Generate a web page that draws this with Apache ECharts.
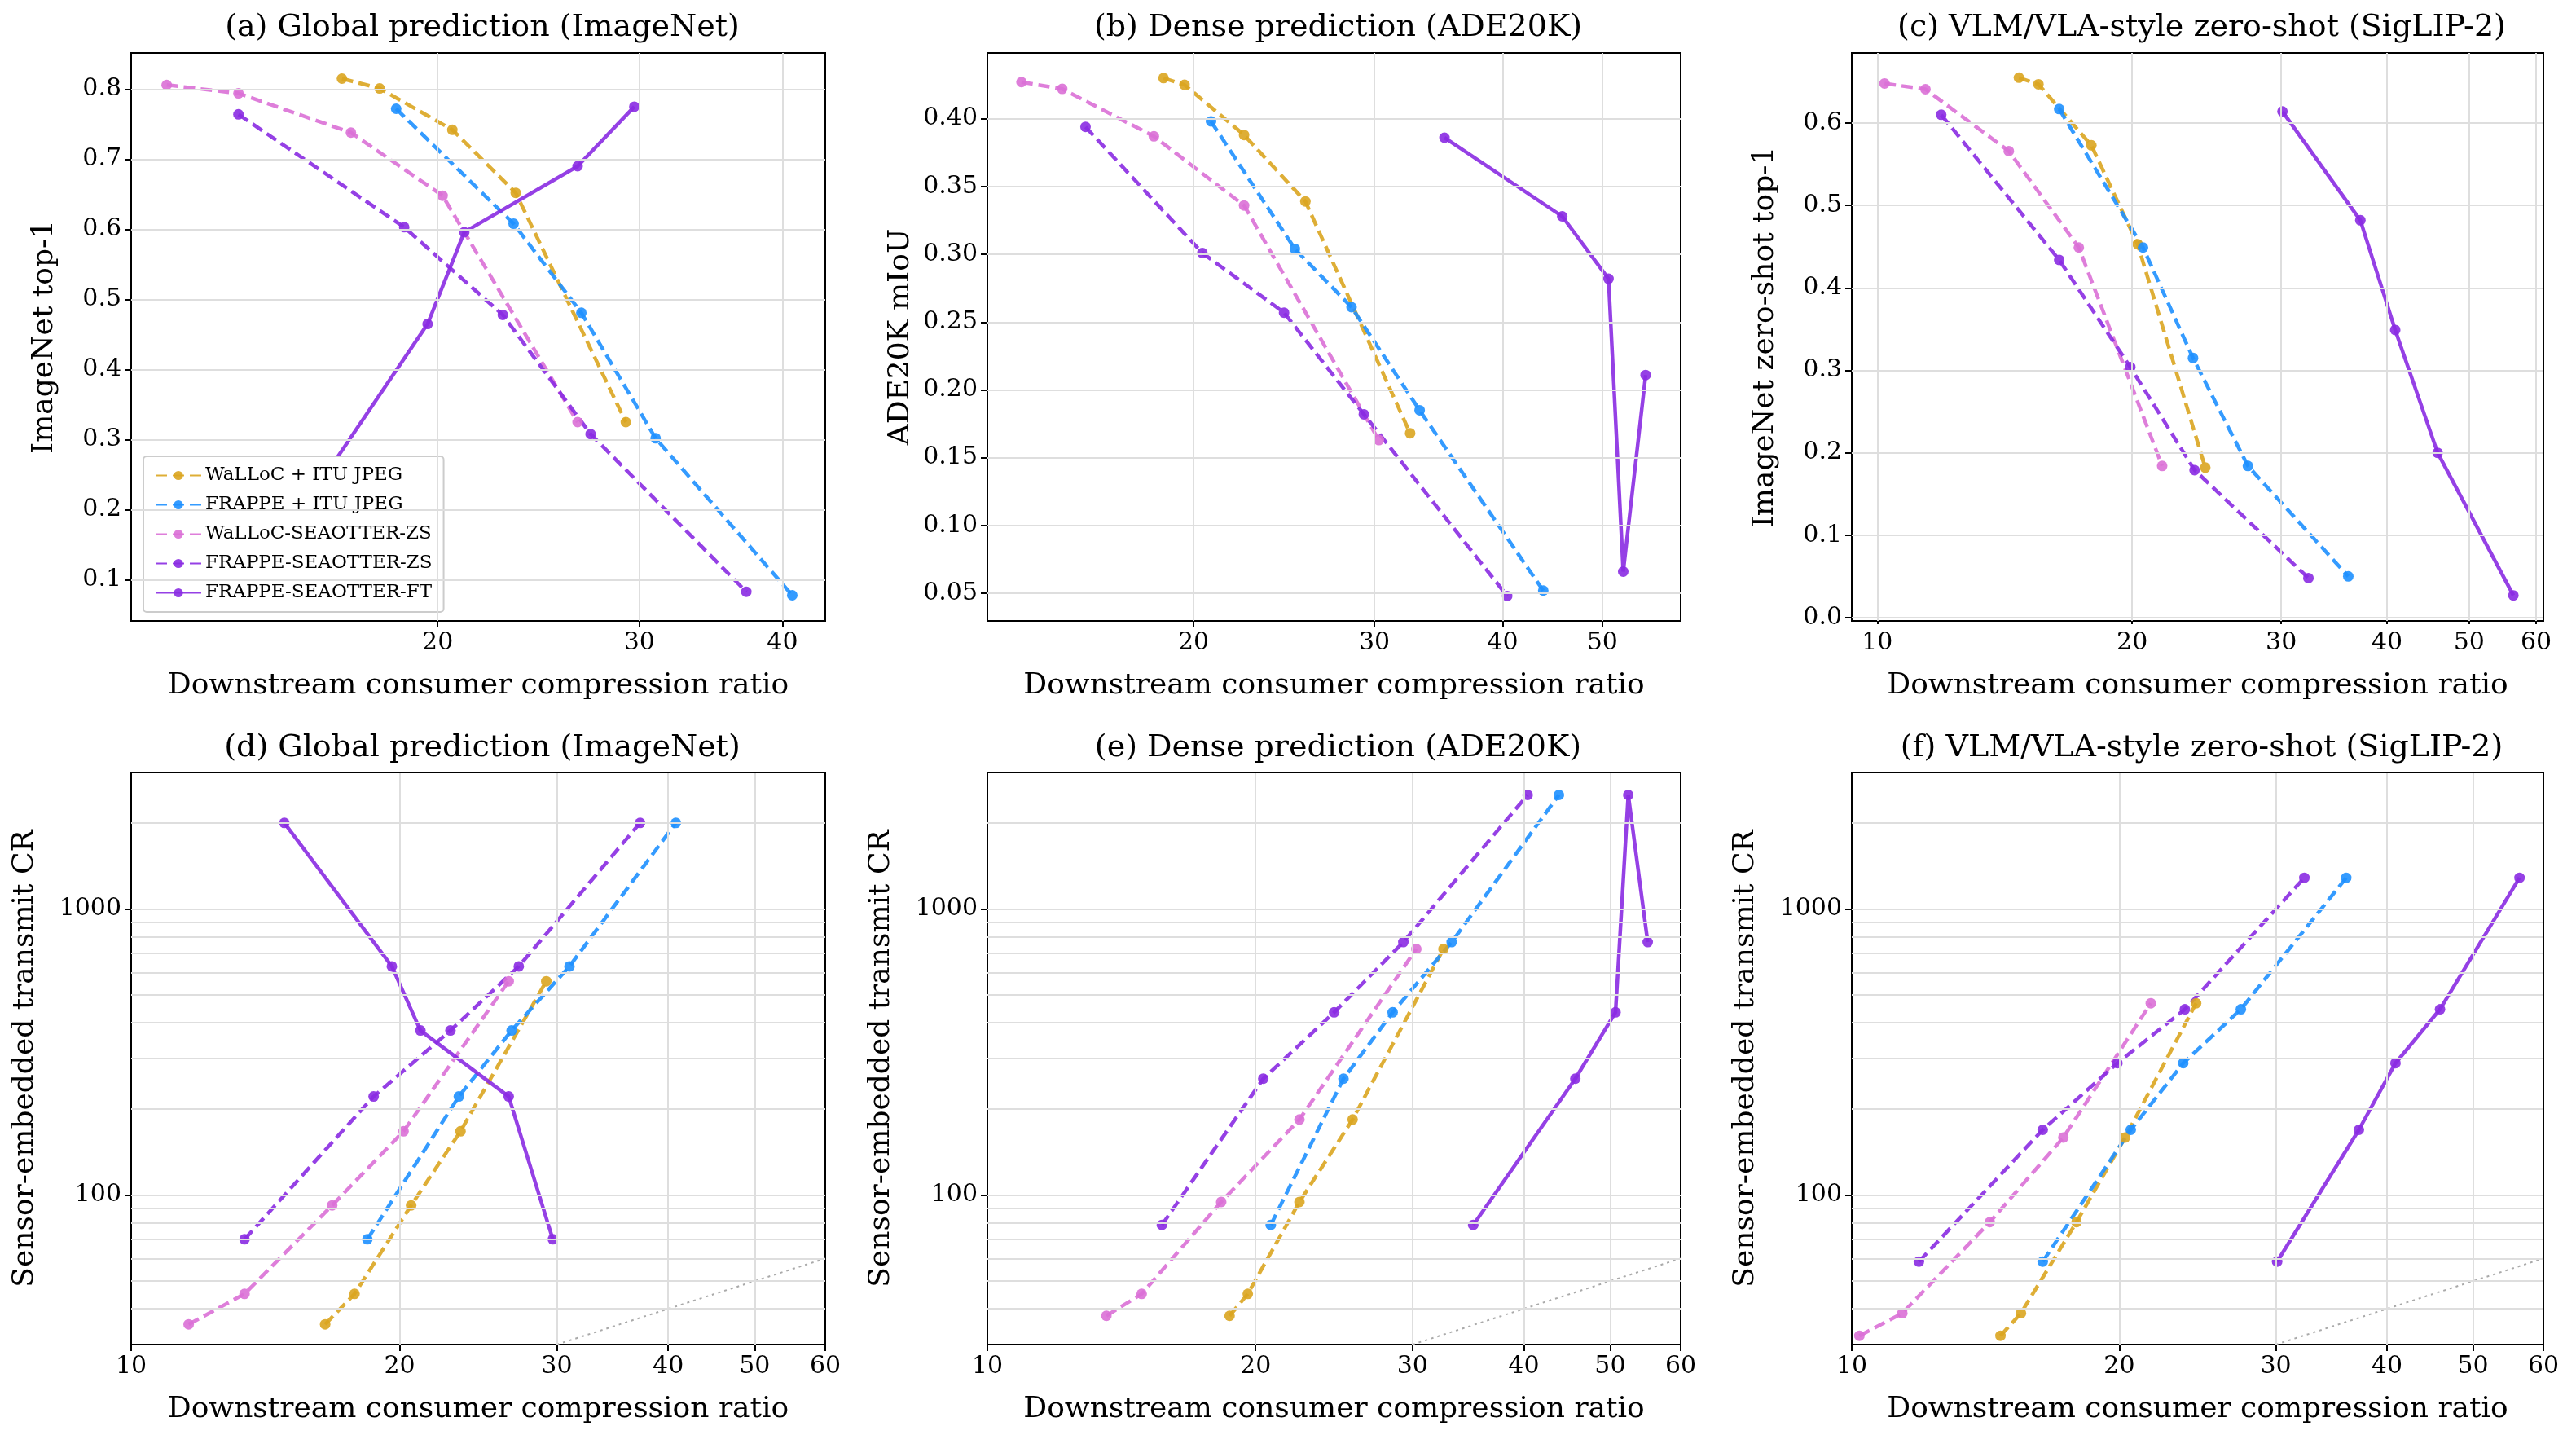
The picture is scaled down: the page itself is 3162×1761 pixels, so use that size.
<!DOCTYPE html>
<html>
<head>
<meta charset="utf-8">
<script src="https://cdn.jsdelivr.net/npm/echarts@6/dist/echarts.min.js"></script>
<style>html,body{margin:0;background:#fff}#chart{width:3162px;height:1761px}</style>
</head>
<body>
<div id="chart"></div>
<script>
// method names, one per series
var methods = ["WaLLoC + ITU JPEG", "FRAPPE + ITU JPEG", "WaLLoC-SEAOTTER-ZS", "FRAPPE-SEAOTTER-ZS", "FRAPPE-SEAOTTER-FT"];

// column 1: ImageNet
var inX = [
  [16.5, 17.8, 20.6, 23.4, 29.2],
  [18.4, 23.3, 26.7, 31.0, 40.8],
  [11.6, 13.4, 16.8, 20.2, 26.5],
  [13.4, 18.7, 22.8, 27.2, 37.2],
  [14.85, 19.6, 21.1, 26.5, 29.7]
];
var inTop1 = [
  [0.815, 0.801, 0.742, 0.652, 0.325],
  [0.772, 0.608, 0.481, 0.302, 0.078],
  [0.806, 0.794, 0.738, 0.648, 0.325],
  [0.764, 0.603, 0.478, 0.308, 0.083],
  [0.174, 0.465, 0.596, 0.690, 0.775]
];
var inTx = [
  [35.3, 45.1, 92, 167, 559],
  [70, 221, 376, 630, 2000],
  [35.3, 45.1, 92, 167, 559],
  [70, 221, 376, 630, 2000],
  [2000, 630, 376, 221, 70]
];

// column 2: ADE20K
var adeX = [
  [18.7, 19.6, 22.4, 25.7, 32.5],
  [20.8, 25.1, 28.5, 33.2, 43.8],
  [13.6, 14.9, 18.3, 22.4, 30.3],
  [15.7, 20.4, 24.5, 29.3, 40.4],
  [35.1, 45.7, 50.7, 52.4, 55.1]
];
var adeMiou = [
  [0.430, 0.425, 0.388, 0.339, 0.168],
  [0.398, 0.304, 0.261, 0.185, 0.052],
  [0.427, 0.422, 0.387, 0.336, 0.163],
  [0.394, 0.301, 0.257, 0.182, 0.048],
  [0.386, 0.328, 0.282, 0.066, 0.211]
];
var adeTx = [
  [37.8, 45.1, 94.6, 183.6, 725],
  [78.6, 255, 435, 766, 2505],
  [37.8, 45.1, 94.6, 183.6, 725],
  [78.6, 255, 435, 766, 2505],
  [78.6, 255, 435, 2505, 766]
];

// column 3: SigLIP-2 zero-shot
var sigX = [
  [14.7, 15.5, 17.9, 20.3, 24.4],
  [16.4, 20.6, 23.6, 27.4, 36.0],
  [10.2, 11.4, 14.3, 17.3, 21.7],
  [11.9, 16.4, 19.9, 23.7, 32.3],
  [30.1, 37.2, 40.9, 45.9, 56.4]
];
var sigTop1 = [
  [0.655, 0.647, 0.573, 0.453, 0.182],
  [0.617, 0.449, 0.315, 0.184, 0.050],
  [0.648, 0.641, 0.566, 0.449, 0.184],
  [0.610, 0.434, 0.304, 0.179, 0.048],
  [0.614, 0.482, 0.349, 0.200, 0.027]
];
var sigTx = [
  [32.2, 38.6, 80.4, 158.8, 468],
  [58.5, 169, 289, 446, 1286],
  [32.2, 38.6, 80.4, 158.8, 468],
  [58.5, 169, 289, 446, 1286],
  [58.5, 169, 289, 446, 1286]
];

// reference y = x line in bottom row
var diagX = [30, 60];

// tick labels
var xTicksA = [20, 30, 40];
var xTicksB = [20, 30, 40, 50];
var xTicksC = [10, 20, 30, 40, 50, 60];
var yTicksA = [0.1, 0.2, 0.3, 0.4, 0.5, 0.6, 0.7, 0.8];
var yTicksB = [0.05, 0.10, 0.15, 0.20, 0.25, 0.30, 0.35, 0.40];
var yTicksC = [0.0, 0.1, 0.2, 0.3, 0.4, 0.5, 0.6];
var yTicksLog = [100, 1000];
var yMinorLog = [40, 50, 60, 70, 80, 90, 200, 300, 400, 500, 600, 700, 800, 900, 2000, 3000];

var colors = ["#DAA520", "#1E90FF", "#DA70D6", "#8A2BE2", "#8A2BE2"];
var dashed = [true, true, true, true, false];
var FONT = "DejaVu Serif";

var panels = [
  {title: "(a) Global prediction (ImageNet)", x: inX, y: inTop1, xr: [10.8, 43.6], yr: [0.0414, 0.8516], xt: xTicksA, yt: yTicksA, dig: 1, log: false, yname: "ImageNet top-1"},
  {title: "(b) Dense prediction (ADE20K)", x: adeX, y: adeMiou, xr: [12.6, 59.6], yr: [0.0296, 0.4485], xt: xTicksB, yt: yTicksB, dig: 2, log: false, yname: "ADE20K mIoU"},
  {title: "(c) VLM/VLA-style zero-shot (SigLIP-2)", x: sigX, y: sigTop1, xr: [9.33, 61.2], yr: [-0.004, 0.685], xt: xTicksC, yt: yTicksC, dig: 1, log: false, yname: "ImageNet zero-shot top-1"},
  {title: "(d) Global prediction (ImageNet)", x: inX, y: inTx, xr: [10, 60], yr: [30, 3000], xt: xTicksC, yt: yTicksLog, log: true, yname: "Sensor-embedded transmit CR"},
  {title: "(e) Dense prediction (ADE20K)", x: adeX, y: adeTx, xr: [10, 60], yr: [30, 3000], xt: xTicksC, yt: yTicksLog, log: true, yname: "Sensor-embedded transmit CR"},
  {title: "(f) VLM/VLA-style zero-shot (SigLIP-2)", x: sigX, y: sigTx, xr: [10, 60], yr: [30, 3000], xt: xTicksC, yt: yTicksLog, log: true, yname: "Sensor-embedded transmit CR"}
];

var lefts = [161, 1212, 2273];
var widths = [852, 851, 849];
var tops = [65, 948];
var heights = [697, 702];

var grids = [], xAxes = [], yAxes = [], titles = [], series = [];
panels.forEach(function (p, i) {
  var col = i % 3, row = Math.floor(i / 3);
  grids.push({left: lefts[col], top: tops[row], width: widths[col], height: heights[row],
    show: true, borderColor: "#000", borderWidth: 2, backgroundColor: "transparent"});
  titles.push({text: p.title, left: lefts[col] + widths[col] / 2, textAlign: "center",
    top: row === 0 ? 10 : 894, textStyle: {fontFamily: FONT, fontSize: 38, fontWeight: "normal", color: "#000"}});
  xAxes.push({type: "log", gridIndex: i, min: p.xr[0], max: p.xr[1],
    name: "Downstream consumer compression ratio", nameLocation: "middle", nameGap: 62,
    nameTextStyle: {fontFamily: FONT, fontSize: 36, color: "#000"},
    axisLine: {show: false}, splitLine: {show: false},
    axisTick: {show: true, customValues: p.xt, length: 8, lineStyle: {color: "#000", width: 2}},
    axisLabel: {customValues: p.xt, fontFamily: FONT, fontSize: 30, color: "#000", margin: 12,
      formatter: function (v) { return String(Math.round(v)); }}});
  yAxes.push({type: p.log ? "log" : "value", gridIndex: i, min: p.yr[0], max: p.yr[1],
    name: p.yname, nameLocation: "middle", nameGap: p.log ? 112 : 88,
    nameTextStyle: {fontFamily: FONT, fontSize: 36, color: "#000"},
    axisLine: {show: false}, splitLine: {show: false},
    axisTick: {show: true, customValues: p.yt, length: 8, lineStyle: {color: "#000", width: 2}},
    axisLabel: {customValues: p.yt, fontFamily: FONT, fontSize: 30, color: "#000", margin: 12,
      formatter: function (v) { return p.log ? String(Math.round(v)) : v.toFixed(p.dig); }}});

  // grid lines
  var gl = p.xt.filter(function (v) { return v > p.xr[0] && v < p.xr[1]; })
    .map(function (v) { return {xAxis: v}; });
  var ys = p.log ? p.yt.concat(yMinorLog) : p.yt;
  ys.forEach(function (v) { if (v > p.yr[0] && v < p.yr[1]) gl.push({yAxis: v}); });
  series.push({type: "line", xAxisIndex: i, yAxisIndex: i, data: [], z: 1, silent: true,
    markLine: {silent: true, symbol: "none", animation: false, label: {show: false},
      lineStyle: {color: "#dedede", width: 2, type: "solid"}, data: gl}});

  if (p.log) {
    series.push({type: "line", xAxisIndex: i, yAxisIndex: i, z: 2, silent: true, symbol: "none",
      data: diagX.map(function (v) { return [v, v]; }),
      lineStyle: {color: "#aaa", width: 2, type: [3, 5]}});
  }

  methods.forEach(function (m, k) {
    series.push({name: m, type: "line", xAxisIndex: i, yAxisIndex: i, z: 3,
      data: p.x[k].map(function (xv, j) { return [xv, p.y[k][j]]; }),
      symbol: "circle", symbolSize: 13, animation: false,
      itemStyle: {color: colors[k], opacity: 0.9},
      lineStyle: {color: colors[k], width: 4.5, opacity: 0.9, type: dashed[k] ? [14, 7] : "solid"}});
  });
});

var chart = echarts.init(document.getElementById("chart"));
chart.setOption({
  backgroundColor: "#fff",
  animation: false,
  title: titles,
  grid: grids,
  xAxis: xAxes,
  yAxis: yAxes,
  legend: {data: methods, orient: "vertical", left: 176, top: 560, itemWidth: 56, itemHeight: 14, itemGap: 13,
    backgroundColor: "#fff", borderColor: "#ccc", borderWidth: 2, borderRadius: 4, padding: [12, 14],
    textStyle: {fontFamily: FONT, fontSize: 23, color: "#000"}},
  series: series
});
</script>
</body>
</html>
